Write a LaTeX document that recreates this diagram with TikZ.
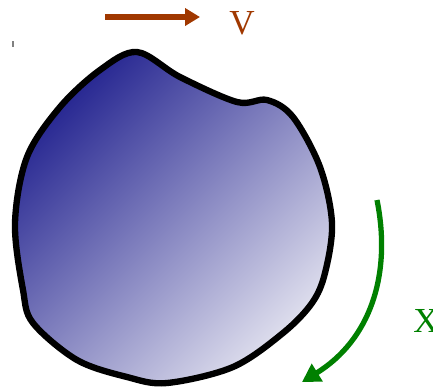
\documentclass[tikz,border=0pt]{standalone}
\usepackage{fontspec}
\setmainfont{Liberation Serif}
\usepackage{tikz}
\usetikzlibrary{positioning, arrows.meta, calc}
\usepackage{xcolor}

\definecolor{vbrown}{RGB}{160,56,0}
\definecolor{xgreen}{RGB}{0,128,0}
\definecolor{blobdark}{RGB}{38,38,145}
\definecolor{bloblight}{RGB}{224,224,238}

\begin{document}
\begin{tikzpicture}[
    x=0.02cm, y=-0.02cm,
    blob/.style={line width=3.6pt, draw=black, top color=blobdark, bottom color=bloblight, shading angle=45},
    varrow/.style={-{Triangle[length=0.3cm, width=0.34cm]}, line width=3pt, vbrown},
    xarrow/.style={-{Triangle[length=0.36cm, width=0.4cm]}, line width=3pt, xgreen},
    biglabel/.style={font=\fontsize{20}{21}\selectfont, inner sep=0pt}
]
\useasboundingbox (0,0) rectangle (433,387);

% Small tick
\draw[gray, line width=0.6pt] (13,41) -- (13,47);

% Body outline
\path[blob] plot[smooth cycle, tension=0.55] coordinates {
    (137,52) (180,77) (237,102) (267,100) (293,117) (320,167) (332,223)
    (325,273) (312,303) (283,333) (233,367) (167,383) (127,377) (77,360)
    (33,323) (23,290) (15,223) (27,157) (60,107) (100,70)};

% Velocity arrow
\coordinate (v0) at (105,17);
\coordinate (v1) at (200,17);
\draw[varrow] (v0) -- (v1);
\node[biglabel, text=vbrown] (vlab) at (242,23) {V};

% Rotation arrow
\coordinate (x0) at (377,200);
\coordinate (x1) at (302,382);
\draw[xarrow] (x0) .. controls (392,275) and (370,340) .. (x1);
\node[biglabel, text=xgreen] (xlab) at (426,321) {X};
\end{tikzpicture}
\end{document}
